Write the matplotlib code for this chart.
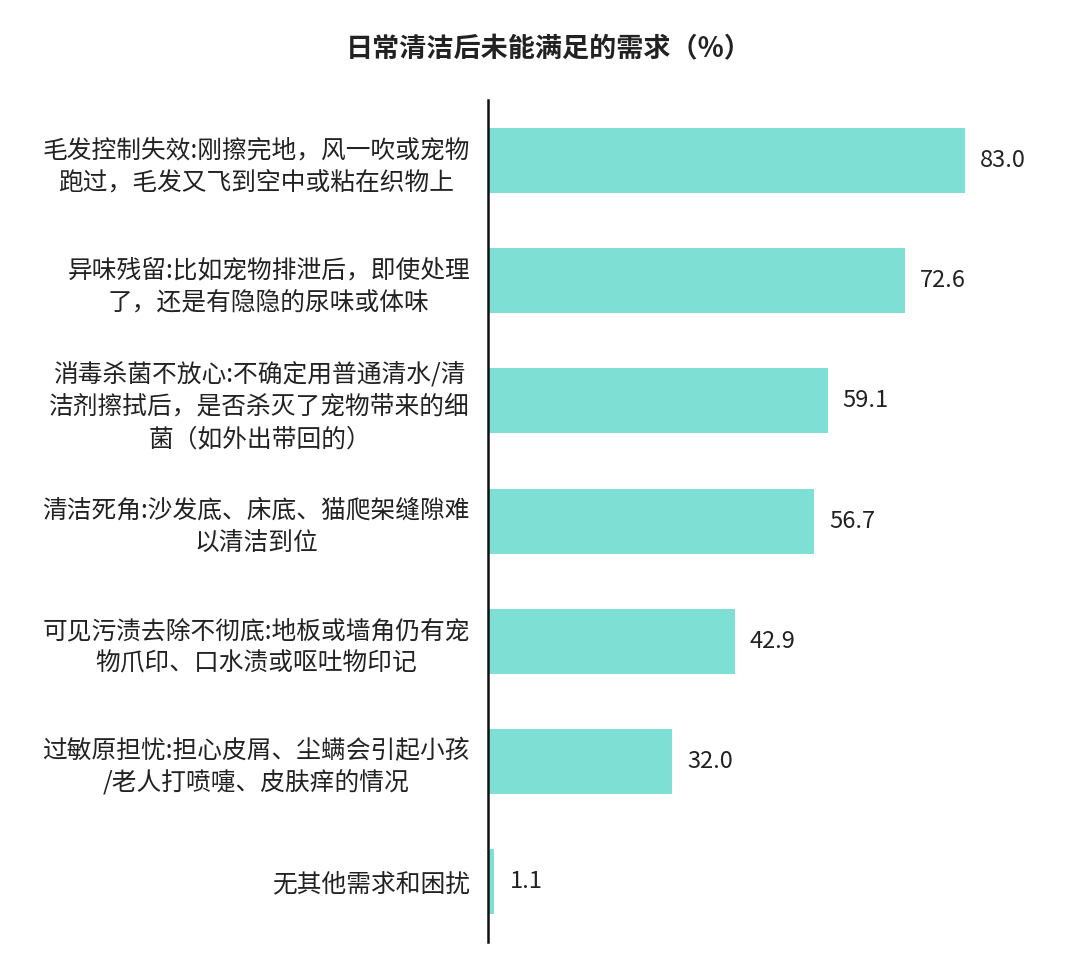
import matplotlib.pyplot as plt

plt.rcParams['font.family'] = ['Noto Sans CJK SC', 'DejaVu Sans']

labels = [
    '毛发控制失效:刚擦完地，风一吹或宠物\n跑过，毛发又飞到空中或粘在织物上',
    '异味残留:比如宠物排泄后，即使处理\n了，还是有隐隐的尿味或体味',
    '消毒杀菌不放心:不确定用普通清水/清\n洁剂擦拭后，是否杀灭了宠物带来的细\n菌（如外出带回的）',
    '清洁死角:沙发底、床底、猫爬架缝隙难\n以清洁到位',
    '可见污渍去除不彻底:地板或墙角仍有宠\n物爪印、口水渍或呕吐物印记',
    '过敏原担忧:担心皮屑、尘螨会引起小孩\n/老人打喷嚏、皮肤痒的情况',
    '无其他需求和困扰',
]
values = [83.0, 72.6, 59.1, 56.7, 42.9, 32.0, 1.1]
title = '日常清洁后未能满足的需求（%）'

fig = plt.figure(figsize=(10.8, 9.65), dpi=100)
ax = fig.add_axes([0.452, 0.024, 0.532, 0.872])

pos = list(range(len(values)))
ax.barh(pos, values, height=0.54, color='#7EDFD5')
ax.set_ylim(len(values) - 0.5, -0.5)
ax.set_xlim(0, 100)

for p, v in zip(pos, values):
    ax.text(v + 2.6, p, f'{v:.1f}', va='center', ha='left', fontsize=17, color='#222222')

ax.set_yticks(pos)
ax.set_yticklabels(labels, fontsize=17.8, color='#222222', linespacing=1.3,
                   ha='right', multialignment='center')
ax.tick_params(axis='y', length=0, pad=13)
ax.set_xticks([])

for s in ['top', 'right', 'bottom']:
    ax.spines[s].set_visible(False)
ax.spines['left'].set_linewidth(1.8)
ax.spines['left'].set_color('#111111')

fig.text(0.508, 0.949, title, ha='center', va='center', fontsize=19.5, fontweight='bold', color='#222222')

fig.savefig('out.png', dpi=100)
